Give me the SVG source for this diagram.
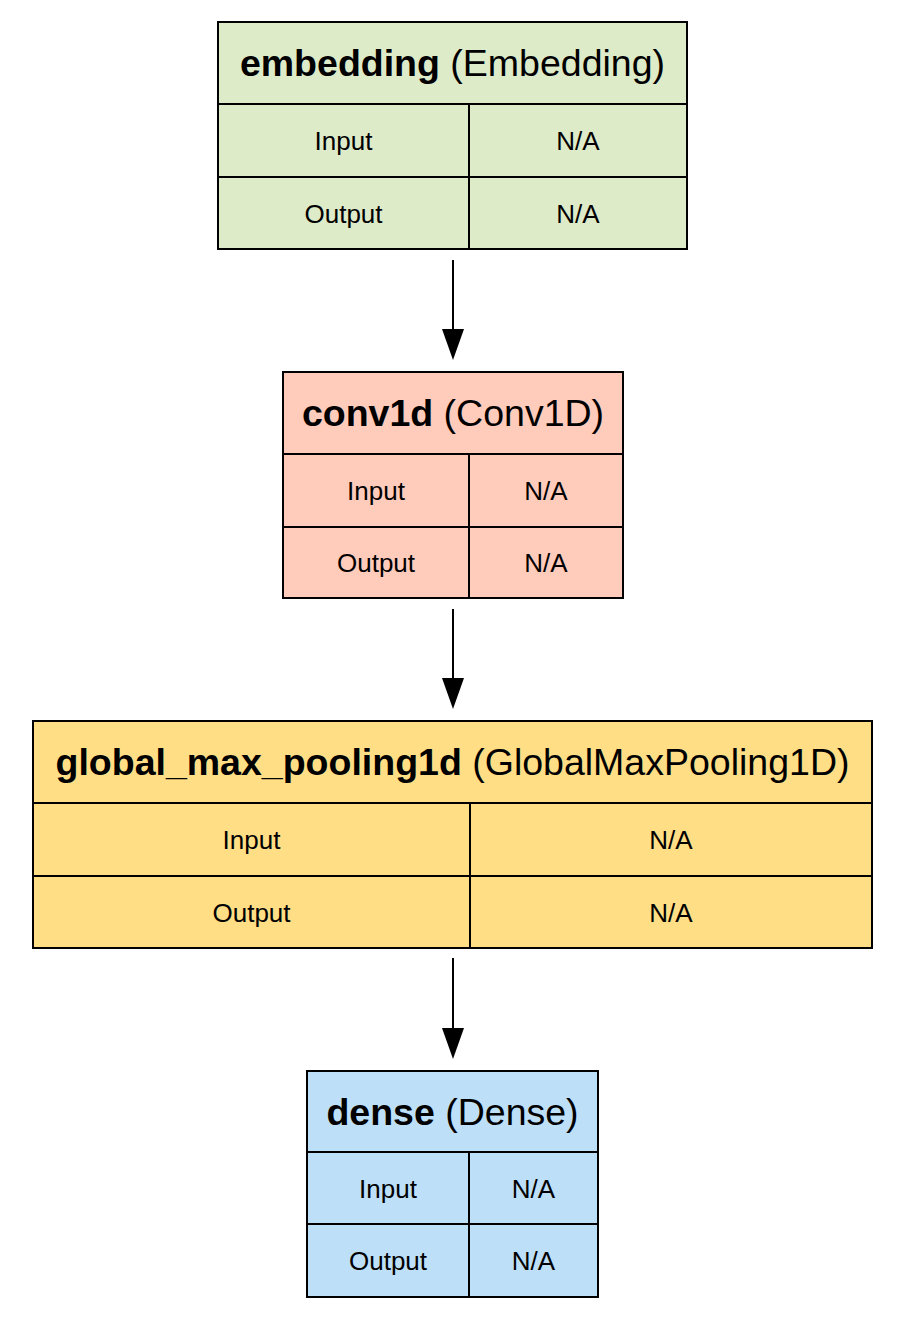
<svg xmlns="http://www.w3.org/2000/svg" width="906" height="1319" viewBox="0 0 906 1319">
<defs>
<style>
.box{stroke:#000;stroke-width:2}
.ln{stroke:#000;stroke-width:2;fill:none}
.t{font-family:"Liberation Sans",Arial,sans-serif;font-size:37.5px;fill:#000;text-anchor:middle}
.t .b{font-weight:bold}
.r{font-family:"Liberation Sans",Arial,sans-serif;font-size:26px;fill:#000;text-anchor:middle}
.e{stroke:#000;stroke-width:2;fill:none;marker-end:url(#ah)}
</style>
<marker id="ah" markerUnits="userSpaceOnUse" markerWidth="31" markerHeight="22" refX="0" refY="11" orient="auto" viewBox="0 0 31 22">
<path d="M0,0 L31,11 L0,22 Z" fill="#000"/>
</marker>
</defs>
<rect width="906" height="1319" fill="#fff"/>
<g id="connectors">
<line class="e" x1="453" y1="260" x2="453" y2="329"/>
<line class="e" x1="453" y1="609" x2="453" y2="678"/>
<line class="e" x1="453" y1="958" x2="453" y2="1028"/>
</g>
<g id="embedding">
<rect class="box" x="218" y="22" width="469" height="227" fill="#ddebc9"/>
<path class="ln" d="M218,104 H687 M218,177 H687 M469,104 V249"/>
<text class="t" x="452.5" y="76"><tspan class="b">embedding</tspan> (Embedding)</text>
<text class="r" x="343.5" y="150">Input</text>
<text class="r" x="578" y="150">N/A</text>
<text class="r" x="343.5" y="222.5">Output</text>
<text class="r" x="578" y="222.5">N/A</text>
</g>
<g id="conv1d">
<rect class="box" x="283" y="372" width="340" height="226" fill="#ffcbbb"/>
<path class="ln" d="M283,454 H623 M283,527 H623 M469,454 V598"/>
<text class="t" x="453" y="426"><tspan class="b">conv1d</tspan> (Conv1D)</text>
<text class="r" x="376" y="500">Input</text>
<text class="r" x="546" y="500">N/A</text>
<text class="r" x="376" y="572">Output</text>
<text class="r" x="546" y="572">N/A</text>
</g>
<g id="global_max_pooling1d">
<rect class="box" x="33" y="721" width="839" height="227" fill="#ffde85"/>
<path class="ln" d="M33,803 H872 M33,876 H872 M470,803 V948"/>
<text class="t" x="452.5" y="775"><tspan class="b">global_max_pooling1d</tspan> (GlobalMaxPooling1D)</text>
<text class="r" x="251.5" y="849">Input</text>
<text class="r" x="671" y="849">N/A</text>
<text class="r" x="251.5" y="921.5">Output</text>
<text class="r" x="671" y="921.5">N/A</text>
</g>
<g id="dense">
<rect class="box" x="307" y="1071" width="291" height="226" fill="#bddff8"/>
<path class="ln" d="M307,1152 H598 M307,1224 H598 M469,1152 V1297"/>
<text class="t" x="452.5" y="1124.5"><tspan class="b">dense</tspan> (Dense)</text>
<text class="r" x="388" y="1197.5">Input</text>
<text class="r" x="533.5" y="1197.5">N/A</text>
<text class="r" x="388" y="1270">Output</text>
<text class="r" x="533.5" y="1270">N/A</text>
</g>
</svg>
